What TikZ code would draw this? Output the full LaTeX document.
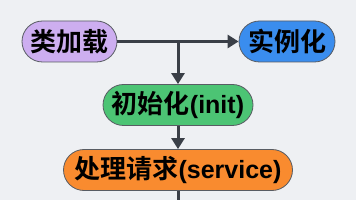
\documentclass[tikz,border=0pt]{standalone}
\usepackage{fontspec}
\setmainfont{Noto Sans CJK SC}[BoldFont={* Bold}]
\newfontfamily\lat{Liberation Sans}
\usetikzlibrary{shapes.misc,arrows.meta}
\definecolor{bg}{HTML}{EEF0F3}
\definecolor{lin}{HTML}{3A3F47}
\definecolor{cpurple}{HTML}{CDAEF0}
\definecolor{cblue}{HTML}{3A8DEE}
\definecolor{cgreen}{HTML}{4CC474}
\definecolor{corange}{HTML}{F98B2F}
\tikzset{
  pill/.style={rounded rectangle, draw=lin!85, line width=0.8pt, minimum height=41pt,
    inner xsep=2pt, inner ysep=0pt, font=\fontsize{26}{30}\selectfont\bfseries, text=black},
  conn/.style={draw=lin, line width=3pt, -{Triangle[length=11pt,width=13pt]}},
  plain/.style={draw=lin, line width=3pt}
}
\begin{document}
\begin{tikzpicture}[x=1pt,y=-1pt]
\useasboundingbox[fill=bg] (0,0) rectangle (356,200);
\node[pill, fill=cpurple, minimum width=99pt] (load) at (69.5,41.5) {类加载};
\node[pill, fill=cblue, minimum width=100pt] (inst) at (287,41.5) {实例化};
\node[pill, fill=cgreen, minimum width=154pt] (init) at (178,105) {初始化{\lat\fontsize{25}{30}\selectfont\bfseries(init)}};
\node[pill, fill=corange, minimum width=233pt] (serv) at (178,170) {处理请求{\lat\fontsize{25}{30}\selectfont\bfseries(service)}};
\coordinate (j) at (178,41.5);
\coordinate (bot) at (178,200);
\draw[conn] (load.east) -- (inst.west);
\draw[conn] (j) -- (init.north);
\draw[conn] (init.south) -- (serv.north);
\draw[plain] (serv.south) -- (bot);
\end{tikzpicture}
\end{document}
